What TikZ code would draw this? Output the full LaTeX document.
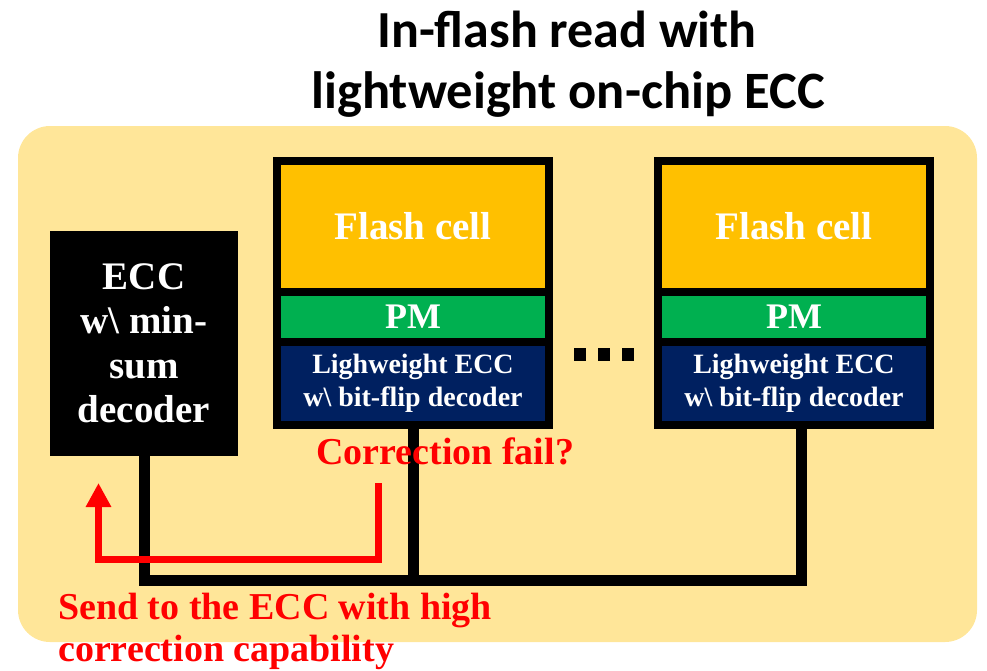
\documentclass[tikz,border=0pt]{standalone}
\usepackage{fontspec}
\setmainfont{Liberation Serif}
\newfontfamily\titlefont{Carlito}
\usepackage{xcolor}
\usetikzlibrary{positioning, arrows.meta}

\definecolor{panelbg}{HTML}{FFE699}
\definecolor{flashfill}{HTML}{FFC000}
\definecolor{pmfill}{HTML}{00B050}
\definecolor{eccfill}{HTML}{002060}

\begin{document}
\begin{tikzpicture}[x=1pt, y=-1pt,
    layer/.style={draw=black, line width=8pt, minimum width=272pt, inner sep=0pt, outer sep=0pt, text=white, font=\bfseries},
    wire/.style={line width=11pt, black},
    redline/.style={line width=7pt, red, -{Triangle[length=24pt, width=24pt]}},
    redtext/.style={text=red, font=\fontsize{38}{44}\selectfont\bfseries, inner sep=0pt, anchor=base west}]

    % Canvas and panel
    \useasboundingbox (0,0) rectangle (987,670);
    \fill[panelbg, rounded corners=32pt] (18,126) rectangle (977,642);

    % Title
    \node[anchor=base, inner sep=0pt, font=\titlefont\bfseries\fontsize{52}{60}\selectfont] (title1) at (567,47) {In-flash read with};
    \node[anchor=base, inner sep=0pt, font=\titlefont\bfseries\fontsize{52.5}{60}\selectfont] (title2) at (568,108) {lightweight on-chip ECC};

    % Strong ECC
    \node[fill=black, minimum width=188pt, minimum height=225pt, inner sep=0pt, text=white, align=center,
          font=\fontsize{39}{44.5}\selectfont\bfseries] (ecc) at (144,343.5) {ECC\\w\textbackslash{} min-\\sum\\decoder};

    % Left flash column
    \node[layer, fill=flashfill, minimum height=130.5pt, font=\fontsize{39}{44}\selectfont\bfseries] (flash1) at (413,226.25) {Flash cell};
    \node[layer, fill=pmfill, minimum height=50.5pt, below=0pt of flash1, font=\fontsize{36}{40}\selectfont\bfseries] (pm1) {PM};
    \node[layer, fill=eccfill, minimum height=83pt, below=0pt of pm1, align=center, font=\fontsize{28}{33}\selectfont\bfseries] (lw1) {Lighweight ECC\\w\textbackslash{} bit-flip decoder};

    % Right flash column
    \node[layer, fill=flashfill, minimum height=130.5pt, font=\fontsize{39}{44}\selectfont\bfseries] (flash2) at (794,226.25) {Flash cell};
    \node[layer, fill=pmfill, minimum height=50.5pt, below=0pt of flash2, font=\fontsize{36}{40}\selectfont\bfseries] (pm2) {PM};
    \node[layer, fill=eccfill, minimum height=83pt, below=0pt of pm2, align=center, font=\fontsize{28}{33}\selectfont\bfseries] (lw2) {Lighweight ECC\\w\textbackslash{} bit-flip decoder};

    % Dots between columns
    \foreach \dx in {574, 598, 622}
        \fill[black] (\dx,348) rectangle ++(12,13);

    % Shared bus
    \coordinate (bus) at (801,580);
    \draw[wire] (ecc.south) |- (bus) -- (bus |- lw2.south);
    \draw[wire] (lw1.south) -- (lw1.south |- bus);

    % Fallback path
    \coordinate (failstart) at (378,483);
    \coordinate (eccin) at (98.5,483);
    \draw[redline] (failstart) -- ++(0,76.5) -| (eccin);

    % Labels
    \node[redtext] (fail) at (316,464) {Correction fail?};
    \node[redtext] (send1) at (58,619) {Send to the ECC with high};
    \node[redtext] (send2) at (58,661) {correction capability};

\end{tikzpicture}
\end{document}
